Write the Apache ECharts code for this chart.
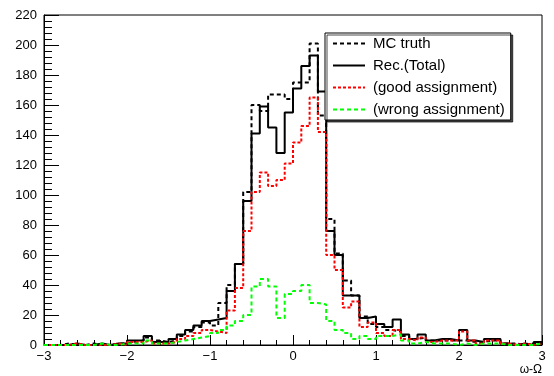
<!DOCTYPE html>
<html>
<head>
<meta charset="utf-8">
<script src="https://cdn.jsdelivr.net/npm/echarts@6/dist/echarts.min.js"></script>
<style>
  html, body { margin: 0; padding: 0; background: #fff; }
  #chart { width: 554px; height: 376px; }
</style>
</head>
<body>
<div id="chart"></div>
<script>
// histogram binning: 60 bins of 0.1 from -3 to 3
const xMin = -3;
const xMax = 3;
const binWidth = 0.1;

const seriesNames = ["MC truth", "Rec.(Total)", "(good assignment)", "(wrong assignment)"];

const mcTruth = [
  0, 0, 1, 0, 0, 1, 0, 0, 1, 1,
  2, 3, 5, 3, 2, 3, 6, 9, 12, 15,
  13, 28, 40, 54, 102, 160, 156, 167, 167, 164,
  175, 175, 201, 153, 84, 61, 43, 33, 19, 14,
  12, 10, 9, 6, 4, 5, 3, 3, 3, 3,
  3, 2, 2, 3, 3, 1, 1, 0, 1, 1
];
const recTotal = [
  0, 0, 0, 1, 0, 0, 1, 0, 1, 1,
  3, 3, 6, 2, 2, 4, 7, 10, 13, 16,
  17, 18, 36, 54, 96, 141, 159, 145, 128, 155,
  171, 186, 193, 169, 76, 60, 33, 33, 18, 19,
  14, 12, 17, 7, 4, 7, 3, 4, 4, 3,
  10, 3, 2, 4, 4, 1, 0, 1, 0, 2
];
const goodAssign = [
  0, 0, 0, 1, 0, 0, 0, 0, 1, 0,
  2, 2, 3, 1, 1, 2, 4, 6, 8, 10,
  9, 8, 23, 38, 76, 102, 115, 106, 110, 121,
  135, 146, 165, 142, 60, 50, 25, 29, 12, 15,
  8, 6, 10, 4, 3, 5, 2, 3, 3, 3,
  9, 3, 1, 3, 3, 1, 0, 1, 0, 1
];
const wrongAssign = [
  0, 0, 0, 0, 0, 0, 1, 0, 0, 1,
  1, 1, 3, 1, 1, 2, 3, 4, 5, 6,
  8, 10, 13, 16, 20, 39, 44, 39, 18, 34,
  36, 40, 28, 27, 16, 10, 8, 4, 6, 4,
  6, 6, 7, 3, 1, 2, 1, 1, 1, 0,
  1, 0, 1, 1, 1, 0, 0, 0, 0, 1
];

const fontFamily = "'Liberation Sans', Arial, sans-serif";

// bin contents -> step points at the lower bin edges, closed at xMax
function toSteps(values) {
  const pts = values.map((v, i) => [Math.round((xMin + i * binWidth) * 10) / 10, v]);
  pts.push([xMax, values[values.length - 1]]);
  return pts;
}

function histSeries(name, values, color, type) {
  return {
    name,
    type: "line",
    step: "end",
    symbol: "none",
    animation: false,
    data: toSteps(values),
    lineStyle: { color, width: 2, type },
    itemStyle: { color },
  };
}

const minus = (v) => String(v).replace("-", "\u2212");

const chart = echarts.init(document.getElementById("chart"));
chart.setOption({
  animation: false,
  grid: {
    left: 44,
    right: 12,
    top: 15,
    bottom: 29,
    show: true,
    borderColor: "#000",
    borderWidth: 1,
    backgroundColor: "#fff",
  },
  legend: {
    orient: "vertical",
    left: 325,
    top: 33,
    data: seriesNames,
    itemWidth: 32,
    itemHeight: 14,
    itemGap: 7,
    padding: [3, 6, 3, 7],
    backgroundColor: "#fff",
    borderColor: "#000",
    borderWidth: 1,
    shadowColor: "rgba(0,0,0,0.7)",
    shadowBlur: 0,
    shadowOffsetX: 2,
    shadowOffsetY: 2,
    // hide the marker circle, keep the dashed line sample
    itemStyle: { color: "transparent", borderWidth: 0, opacity: 0 },
    textStyle: { color: "#000", fontSize: 15, lineHeight: 14, fontFamily, padding: [0, 0, 0, 3] },
  },
  xAxis: {
    type: "value",
    min: xMin,
    max: xMax,
    interval: 1,
    name: "\u03c9-\u03a9",
    nameLocation: "end",
    nameGap: 0,
    nameTextStyle: {
      color: "#000",
      fontSize: 12,
      fontFamily,
      align: "right",
      verticalAlign: "top",
      padding: [19, 0, 0, 0],
    },
    axisLine: { show: true, onZero: false, lineStyle: { color: "#000", width: 1 } },
    axisTick: { show: true, inside: true, length: 10, lineStyle: { color: "#000" } },
    minorTick: { show: true, splitNumber: 5, length: 5, lineStyle: { color: "#000" } },
    axisLabel: {
      color: "#000",
      fontSize: 13,
      fontFamily,
      margin: 5,
      showMinLabel: true,
      showMaxLabel: true,
      formatter: minus,
    },
    splitLine: { show: false },
  },
  yAxis: {
    type: "value",
    min: 0,
    max: 220,
    interval: 20,
    axisLine: { show: true, onZero: false, lineStyle: { color: "#000", width: 1 } },
    axisTick: { show: true, inside: true, length: 15, lineStyle: { color: "#000" } },
    minorTick: { show: true, splitNumber: 5, length: 8, lineStyle: { color: "#000" } },
    axisLabel: { color: "#000", fontSize: 13, fontFamily, margin: 7 },
    splitLine: { show: false },
  },
  series: [
    histSeries(seriesNames[0], mcTruth, "#000000", [4, 3]),
    histSeries(seriesNames[1], recTotal, "#000000", "solid"),
    histSeries(seriesNames[2], goodAssign, "#ff0000", [3, 2]),
    histSeries(seriesNames[3], wrongAssign, "#00ff00", [4, 3]),
  ],
});
</script>
</body>
</html>
